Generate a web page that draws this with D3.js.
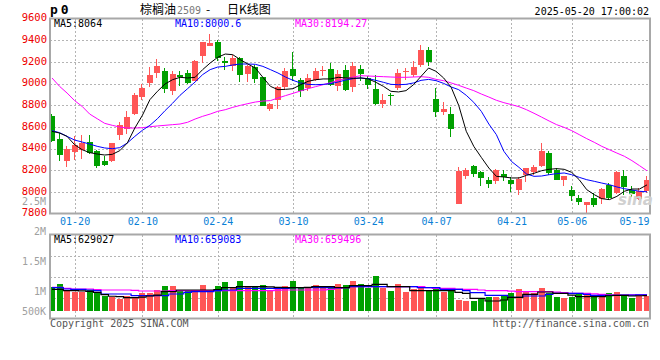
<!DOCTYPE html>
<html>
<head>
<meta charset="utf-8">
<script src="https://cdn.jsdelivr.net/npm/d3@7"></script>
<style>
  body { margin: 0; background: #fff; }
  text { font-family: "DejaVu Sans Mono", monospace; }
</style>
</head>
<body>
<div id="chart"></div>
<script>
// Trading days (MM-DD), p2509 daily K
var dates = ["01-15","01-16","01-17","01-20","01-21","01-22","01-23","01-24","01-27",
  "02-05","02-06","02-07","02-10","02-11","02-12","02-13","02-14","02-17","02-18","02-19","02-20","02-21",
  "02-24","02-25","02-26","02-27","02-28","03-03","03-04","03-05","03-06","03-07","03-10","03-11","03-12",
  "03-13","03-14","03-17","03-18","03-19","03-20","03-21","03-24","03-25","03-26","03-27","03-28","03-31",
  "04-01","04-02","04-03","04-07","04-08","04-09","04-10","04-11","04-14","04-15","04-16","04-17","04-18",
  "04-21","04-22","04-23","04-24","04-25","04-28","04-29","04-30","05-06","05-07","05-08","05-09","05-12",
  "05-13","05-14","05-15","05-16","05-19","05-20"];

var opens = [8697,8491,8288,8368,8389,8460,8374,8281,8288,8528,8580,8718,8875,9008,9097,9118,8928,9082,9097,9026,
  9251,9349,9380,9205,9158,9235,9091,9152,9057,8768,8851,8968,9134,9035,8958,9035,9118,9134,8980,9128,
  8965,9134,9051,8949,8811,8891,8958,9103,9075,9174,9306,8857,8737,8718,7891,8149,8238,8183,8106,8097,
  8168,8112,8020,8158,8183,8235,8360,8198,8112,8014,7940,7875,7943,7934,8060,7989,8143,8020,7934,8011];
var highs = [8718,8543,8420,8512,8522,8528,8389,8328,8451,8645,8743,8909,8998,9149,9229,9143,9112,9112,9121,9220,
  9380,9457,9402,9242,9260,9242,9174,9174,9057,8820,8980,9143,9291,9051,9088,9143,9158,9189,9128,9174,
  9195,9174,9066,9082,8903,8912,9134,9143,9205,9352,9337,8958,8829,8780,8229,8220,8251,8195,8134,8211,
  8205,8134,8134,8220,8251,8451,8380,8220,8143,8051,7968,7906,7989,8035,8081,8189,8198,8051,8035,8143];
var lows = [8460,8288,8232,8297,8306,8349,8220,8235,8275,8482,8534,8712,8851,8971,9051,8912,8897,8974,8995,9020,
  9190,9343,9205,9122,9118,9014,9014,9005,8789,8749,8768,8943,9026,8872,8934,9020,9066,8974,8934,8934,
  8922,9020,8952,8798,8774,8798,8943,9035,9057,9149,9158,8691,8706,8509,7891,8118,8137,8057,8035,8075,
  8097,7998,7968,8091,8158,8229,8155,8106,8051,7918,7882,7805,7860,7891,7937,7983,7974,7949,7928,7989];
var closes = [8472,8343,8398,8435,8451,8355,8242,8248,8451,8614,8688,8891,8958,9082,9165,8949,9088,9057,9005,9211,
  9380,9374,9235,9189,9235,9082,9158,9045,8795,8811,8965,9118,9072,8934,9051,9118,9125,8989,9088,8943,
  9165,9091,8989,8811,8848,8885,9097,9112,9152,9306,9198,8737,8765,8583,8195,8198,8168,8131,8075,8198,
  8134,8069,8122,8220,8229,8380,8178,8112,8143,7965,7909,7906,7881,8026,7943,8183,8042,7983,8005,8106];

// Moving averages of the close, as drawn
var ma5 = [8558,8543,8512,8435,8389,8362,8349,8340,8346,8380,8451,8589,8706,8851,8928,8995,9035,9057,9051,9057,
  9128,9189,9242,9272,9266,9220,9180,9143,9057,8974,8943,8946,8952,8989,9020,9035,9042,9042,9057,9051,
  9048,9051,9042,9011,8974,8928,8922,8934,8989,9066,9143,9112,9051,8965,8798,8559,8420,8318,8220,8143,
  8137,8128,8128,8152,8171,8195,8208,8214,8208,8180,8112,8020,7974,7937,7928,7958,8005,8026,8026,8064];
var ma10 = [8565,8546,8512,8478,8460,8441,8420,8405,8398,8408,8451,8512,8568,8614,8675,8749,8817,8891,8952,9014,
  9082,9128,9152,9158,9171,9180,9180,9177,9158,9128,9097,9060,9029,9005,8992,8989,8992,8998,9014,9032,
  9045,9051,9045,9029,9011,8992,8989,8992,9005,9029,9038,9026,9001,8968,8943,8891,8826,8743,8626,8528,
  8374,8281,8226,8165,8143,8146,8158,8168,8174,8158,8134,8112,8097,8081,8066,8045,8029,8017,8005,8000.6];
var ma30 = [9051,8974,8912,8842,8789,8718,8675,8632,8614,8598,8589,8589,8592,8601,8608,8614,8620,8626,8642,8672,
  8697,8718,8743,8758,8780,8798,8814,8829,8838,8842,8866,8888,8909,8931,8952,8971,8989,9008,9029,9045,
  9060,9072,9069,9066,9063,9060,9057,9057,9060,9063,9057,9038,9026,9005,8983,8958,8934,8903,8875,8845,
  8823,8805,8786,8758,8725,8690,8654,8620,8595,8565,8528,8491,8457,8420,8389,8358,8328,8288,8242,8194.27];

// Volume, thousands of lots
var volK = [996,1108,859,789,789,859,764,610,556,486,610,581,747,747,859,1025,1025,830,830,789,
  1067,859,1025,1191,996,1233,996,996,1067,859,930,1025,1233,996,930,1067,996,1025,1108,1067,
  1233,1108,930,1440,930,818,1108,789,901,996,859,930,789,859,444,403,403,473,556,556,
  610,747,901,818,747,942,747,581,527,581,722,652,652,610,722,789,610,540,610,610];
var volMa5K = [888,888,830,830,820,800,760,664,600,581,540,540,560,610,650,789,789,859,859,859,
  859,859,880,954,954,996,996,996,996,990,971,960,954,954,971,996,996,996,954,954,
  1037,1037,1037,1095,1095,996,996,996,830,830,830,830,830,830,760,722,515,515,403,403,
  444,556,556,681,681,776,776,722,722,650,581,581,581,581,620,639,639,610,620,629.027];
var volMa10K = [954,954,900,887,887,860,830,693,693,693,693,623,623,623,623,623,693,693,760,789,
  789,789,830,859,859,930,930,930,930,930,930,930,954,954,954,954,954,954,954,954,
  996,996,996,996,996,996,996,996,996,954,954,954,888,888,888,830,747,747,639,639,
  639,556,556,610,610,610,680,722,722,722,722,680,640,640,640,640,650,650,655,659.083];
var volMa30K = [971,971,930,900,900,900,880,859,859,859,859,840,818,818,818,818,830,830,830,830,
  830,830,830,830,830,830,830,830,830,830,850,859,859,859,859,859,859,888,930,960,
  996,996,996,996,996,996,996,996,996,996,960,930,930,930,900,888,888,860,830,830,
  830,810,789,789,789,789,789,770,750,722,722,722,700,680,660,650,650,655,658,659.496];

// Axis labels
var dateTicks = ["01-20","02-10","02-24","03-10","03-24","04-07","04-21","05-06","05-19"];
var gridDates = ["01-20","02-10","02-24","03-10","03-24","04-07","04-21","05-06"];
var priceTicks = [7800,8000,8200,8400,8600,8800,9000,9200,9400,9600];
var volTicks = [500000,1000000,1500000,2000000,2500000];

(function() {
    var width = 660, height = 360;
    var left = 50, right = 650;
    var mainTop = 18.5, mainBottom = 213.5;
    var volTop = 234.5, volBottom = 318.5, volBase = 310.7;
    var red = "#ff5656", green = "#00a000";
    var gridColor = "#b4b4b4", frameColor = "#a8a8a8";

    var svg = d3.select("#chart")
        .append("svg")
        .attr("width", width)
        .attr("height", height);

    var idx = d3.range(dates.length);

    // Scales
    var x = d3.scalePoint().domain(dates).range([52, 647]);
    var y = d3.scaleLinear().domain([7800, 9600]).range([mainBottom, mainTop]);
    var yVol = d3.scaleLinear().domain([0, 1000]).range([volBase, volBase - 1000 / 41.5]);
    // Volume label positions on the left (Sina style, last label pushed up)
    var yVolLabel = d3.scaleLinear().domain([500000, 1000000, 2500000]).range([311, 291, 201]);

    var cx = function(i) { return Math.round(x(dates[i])); };
    var isUp = function(i) { return closes[i] >= opens[i]; };

    // Grid lines
    var grid = svg.append("g")
        .attr("stroke", gridColor)
        .attr("stroke-dasharray", "2,2")
        .attr("shape-rendering", "crispEdges");

    grid.selectAll(".hgrid")
        .data(priceTicks.filter(function(v) { return v > 7800 && v < 9600; }))
        .enter().append("line")
        .attr("x1", left).attr("x2", right)
        .attr("y1", function(d) { return Math.round(y(d)) + 0.5; })
        .attr("y2", function(d) { return Math.round(y(d)) + 0.5; });

    grid.selectAll(".vgrid")
        .data(gridDates)
        .enter().append("line")
        .attr("x1", function(d) { return Math.round(x(d)) + 0.5; })
        .attr("x2", function(d) { return Math.round(x(d)) + 0.5; })
        .attr("y1", mainTop).attr("y2", mainBottom);

    grid.selectAll(".vgrid2")
        .data(gridDates)
        .enter().append("line")
        .attr("x1", function(d) { return Math.round(x(d)) + 0.5; })
        .attr("x2", function(d) { return Math.round(x(d)) + 0.5; })
        .attr("y1", volTop).attr("y2", volBottom);

    grid.selectAll(".hgrid2")
        .data([1, 2, 3])
        .enter().append("line")
        .attr("x1", left).attr("x2", right)
        .attr("y1", function(k) { return Math.round(volTop + k * (volBottom - volTop) / 4) + 0.5; })
        .attr("y2", function(k) { return Math.round(volTop + k * (volBottom - volTop) / 4) + 0.5; });

    // Candles
    var candles = svg.append("g").attr("shape-rendering", "crispEdges");

    candles.selectAll(".wick")
        .data(idx)
        .enter().append("line")
        .attr("x1", function(i) { return cx(i) - 0.5; })
        .attr("x2", function(i) { return cx(i) - 0.5; })
        .attr("y1", function(i) { return y(highs[i]); })
        .attr("y2", function(i) { return y(lows[i]); })
        .attr("stroke", function(i) { return isUp(i) ? red : green; });

    candles.selectAll(".body")
        .data(idx)
        .enter().append("rect")
        .attr("x", function(i) { return cx(i) - 3; })
        .attr("width", 6)
        .attr("y", function(i) { return y(Math.max(opens[i], closes[i])); })
        .attr("height", function(i) { return Math.max(1, Math.abs(y(opens[i]) - y(closes[i]))); })
        .attr("fill", function(i) { return isUp(i) ? red : green; });

    // Moving average lines
    var maLine = function(arr, yScale) {
        return d3.line()
            .x(function(i) { return x(dates[i]); })
            .y(function(i) { return yScale(arr[i]); })(idx);
    };

    [[ma30, "#ff00ff"], [ma10, "#0000ff"], [ma5, "#000000"]].forEach(function(m) {
        svg.append("path")
            .attr("d", maLine(m[0], y))
            .attr("fill", "none")
            .attr("stroke", m[1])
            .attr("stroke-width", 1);
    });

    // Volume bars
    svg.append("g").attr("shape-rendering", "crispEdges")
        .selectAll(".vol")
        .data(idx)
        .enter().append("rect")
        .attr("x", function(i) { return cx(i) - 3; })
        .attr("width", 6)
        .attr("y", function(i) { return yVol(volK[i]); })
        .attr("height", function(i) { return yVol(0) - yVol(volK[i]); })
        .attr("fill", function(i) { return isUp(i) ? red : green; });

    var stepLine = function(arr) {
        return d3.line()
            .curve(d3.curveStep)
            .x(function(i) { return x(dates[i]); })
            .y(function(i) { return yVol(arr[i]); })(idx);
    };

    [[volMa30K, "#ff00ff"], [volMa10K, "#0000ff"], [volMa5K, "#000000"]].forEach(function(m) {
        svg.append("path")
            .attr("d", stepLine(m[0]))
            .attr("fill", "none")
            .attr("stroke", m[1])
            .attr("stroke-width", 1.2);
    });

    // Frames
    svg.append("rect")
        .attr("x", left).attr("y", mainTop)
        .attr("width", right - left).attr("height", mainBottom - mainTop)
        .attr("fill", "none").attr("stroke", frameColor).attr("stroke-width", 2);
    svg.append("rect")
        .attr("x", left).attr("y", volTop)
        .attr("width", right - left).attr("height", volBottom - volTop)
        .attr("fill", "none").attr("stroke", frameColor).attr("stroke-width", 2);

    // Axes
    var yAxis = d3.axisLeft(y).tickValues(priceTicks).tickSize(0).tickPadding(3)
        .tickFormat(d3.format("d"));
    var gy = svg.append("g")
        .attr("transform", "translate(" + left + ",0)")
        .call(yAxis);
    gy.select(".domain").remove();
    gy.selectAll("text")
        .attr("dy", "0.22em")
        .attr("fill", "#ee0000")
        .style("font-size", "10.5px")
        .style("font-family", "DejaVu Sans Mono");

    var volAxis = d3.axisLeft(yVolLabel).tickValues(volTicks).tickSize(0).tickPadding(4)
        .tickFormat(function(v) { return v >= 1000000 ? (v / 1000000) + "M" : (v / 1000) + "K"; });
    var gv = svg.append("g")
        .attr("transform", "translate(" + left + ",0)")
        .call(volAxis);
    gv.select(".domain").remove();
    gv.selectAll("text")
        .attr("dy", "0.3em")
        .attr("fill", "#a0a0a0")
        .style("font-size", "10px")
        .style("font-family", "DejaVu Sans Mono");

    var xAxis = d3.axisBottom(x).tickValues(dateTicks).tickSize(0).tickPadding(4);
    var gx = svg.append("g")
        .attr("transform", "translate(0," + mainBottom + ")")
        .call(xAxis);
    gx.select(".domain").remove();
    gx.selectAll("text")
        .attr("fill", "#0a7fd6")
        .style("font-size", "10px")
        .style("font-family", "DejaVu Sans Mono")
        .attr("dx", function(d) {
            var p = x(d);
            return p + 15 > 649 ? (649 - 15 - p) : 0;
        });

    // Legends
    var legend = function(yPos, items) {
        items.forEach(function(it) {
            svg.append("text")
                .attr("x", it[0]).attr("y", yPos)
                .attr("fill", it[2])
                .style("font-size", "10px")
                .text(it[1]);
        });
    };
    var last = dates.length - 1;
    legend(27, [
        [54, "MA5:" + ma5[last], "#000"],
        [175, "MA10:" + ma10[last], "#0000ff"],
        [295, "MA30:" + ma30[last], "#ff00ff"]
    ]);
    legend(243, [
        [54, "MA5:" + Math.round(volMa5K[last] * 1000), "#000"],
        [175, "MA10:" + Math.round(volMa10K[last] * 1000), "#0000ff"],
        [295, "MA30:" + Math.round(volMa30K[last] * 1000), "#ff00ff"]
    ]);

    // Title row
    svg.append("text")
        .attr("x", 50).attr("y", 14)
        .style("font-size", "13px").style("font-weight", "bold")
        .attr("letter-spacing", "3px")
        .text("p0");

    var title = svg.append("text")
        .attr("y", 14)
        .style("font-family", "Noto Sans CJK SC")
        .style("font-size", "12px")
        .attr("fill", "#000");
    title.append("tspan").attr("x", 140).text("棕榈油");
    title.append("tspan").attr("x", 177).attr("fill", "#777")
        .style("font-family", "DejaVu Sans Mono").style("font-size", "10px").text("2509");
    title.append("tspan").attr("x", 206).text("-");
    title.append("tspan").attr("x", 227).text("日K线图");

    svg.append("text")
        .attr("x", 649).attr("y", 15)
        .attr("text-anchor", "end")
        .style("font-size", "10px")
        .text("2025-05-20 17:00:02");

    // Watermark
    svg.append("text")
        .attr("x", 618).attr("y", 205)
        .attr("fill", "#d0d0d0")
        .style("font-family", "DejaVu Sans")
        .style("font-style", "italic").style("font-weight", "bold")
        .style("font-size", "15px")
        .text("sina");

    // Footer
    svg.append("text")
        .attr("x", 50).attr("y", 327)
        .attr("fill", "#555")
        .style("font-size", "10px")
        .text("Copyright 2025 SINA.COM");
    svg.append("text")
        .attr("x", 649).attr("y", 327)
        .attr("text-anchor", "end")
        .attr("fill", "#555")
        .style("font-size", "10px")
        .text("http://finance.sina.com.cn");
})();
</script>
</body>
</html>
